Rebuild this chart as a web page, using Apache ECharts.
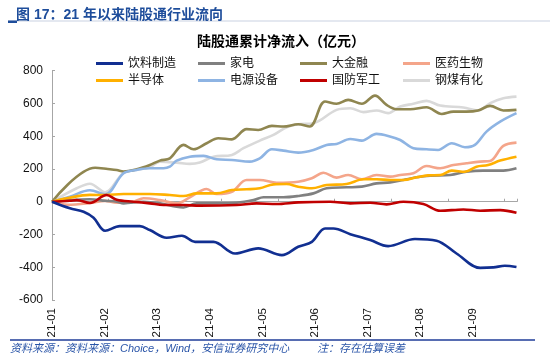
<!DOCTYPE html>
<html><head><meta charset="utf-8">
<script src="https://cdn.jsdelivr.net/npm/echarts@6/dist/echarts.min.js"></script>
<style>html,body{margin:0;padding:0;background:#fff}#c{width:550px;height:359px}</style>
</head><body><div id="c"></div>
<script>
const tickLabels = ['21-01','21-02','21-03','21-04','21-05','21-06','21-07','21-08','21-09'];
const names = ['饮料制造','家电','大金融','医药生物','半导体','电源设备','国防军工','钢煤有化'];
const colors = ['#112f91','#808080','#8f8650','#f4a58a','#ffb000','#8eb4e3','#c00000','#d9d9d9'];

// [month index since 21-01, cumulative net inflow (亿元)]
const beverage = [[0,0],[0.34,-40],[0.60,-61],[0.79,-98],[1.01,-177],[1.29,-149],[1.67,-149],[1.86,-173],[2.18,-220],[2.47,-208],[2.72,-245],[3.07,-245],[3.48,-316],[3.92,-285],[4.37,-326],[4.68,-275],[4.94,-245],[5.19,-163],[5.35,-163],[5.67,-198],[6.05,-234],[6.39,-271],[6.90,-228],[7.31,-238],[7.69,-316],[8.14,-404],[8.39,-401],[8.61,-391],[8.83,-398]];
const appliance = [[0,0],[0.34,10],[0.72,15],[1.01,6],[1.23,0],[1.36,-10],[1.74,0],[2.05,-10],[2.37,-31],[2.50,-35],[2.75,-10],[3.13,-10],[3.51,-6],[3.83,10],[4.02,27],[4.40,27],[4.68,35],[4.97,51],[5.22,82],[5.60,88],[5.89,92],[6.17,112],[6.43,118],[6.68,133],[6.93,149],[7.19,159],[7.57,163],[7.88,183],[8.20,190],[8.58,190],[8.83,204]];
const finance = [[0,0],[0.82,207],[1.06,200],[1.23,194],[1.36,185],[1.61,198],[1.86,224],[2.05,251],[2.24,265],[2.50,347],[2.69,320],[2.94,357],[3.16,388],[3.42,381],[3.70,443],[3.92,438],[4.18,463],[4.40,459],[4.68,473],[4.90,459],[5.19,612],[5.41,598],[5.63,622],[5.89,598],[6.14,648],[6.36,591],[6.55,565],[6.81,565],[7.12,577],[7.41,536],[7.63,550],[7.88,550],[8.10,557],[8.33,585],[8.58,557],[8.83,561]];
const pharma = [[0,0],[0.30,-18],[0.72,-8],[1.01,5],[1.23,-6],[1.55,0],[1.74,21],[2.05,10],[2.37,-10],[2.62,27],[2.94,78],[3.13,47],[3.42,61],[3.70,133],[3.95,133],[4.27,116],[4.68,122],[4.94,143],[5.16,177],[5.41,147],[5.63,163],[5.89,137],[6.17,163],[6.43,153],[6.62,163],[6.87,174],[7.12,218],[7.38,204],[7.63,224],[7.88,235],[8.14,245],[8.33,249],[8.58,341],[8.83,361]];
const semi = [[0,0],[0.28,21],[0.72,42],[1.01,41],[1.36,47],[1.86,47],[2.24,41],[2.50,35],[2.75,51],[3.13,51],[3.42,72],[3.70,76],[3.95,82],[4.21,106],[4.46,108],[4.68,92],[4.94,82],[5.22,102],[5.60,108],[5.92,137],[6.17,137],[6.43,133],[6.68,133],[6.93,149],[7.15,161],[7.38,163],[7.60,190],[7.85,183],[8.07,214],[8.29,224],[8.52,251],[8.83,275]];
const power = [[0,0],[0.34,31],[0.72,70],[1.01,45],[1.36,174],[1.61,194],[1.86,204],[2.12,204],[2.24,214],[2.37,251],[2.62,275],[2.88,280],[3.13,259],[3.42,255],[3.76,245],[3.95,265],[4.18,320],[4.40,312],[4.68,300],[4.97,316],[5.22,347],[5.41,353],[5.67,383],[5.89,373],[6.17,414],[6.39,402],[6.62,377],[6.87,327],[7.12,320],[7.34,316],[7.60,357],[7.85,333],[8.04,347],[8.26,428],[8.52,489],[8.83,541]];
const defense = [[0,0],[0.34,6],[0.47,10],[0.72,-8],[1.04,41],[1.23,12],[1.55,0],[1.86,-10],[2.12,-20],[2.50,-20],[2.81,-24],[3.51,-20],[3.89,-10],[4.27,-14],[4.68,-4],[5.29,0],[5.67,-10],[6.05,-6],[6.36,-16],[6.68,0],[7.06,-14],[7.38,-55],[7.82,-47],[8.14,-55],[8.52,-51],[8.83,-67]];
const steel = [[0,0],[0.47,82],[0.72,110],[1.01,58],[1.36,177],[1.61,195],[1.86,210],[2.05,245],[2.37,239],[2.62,231],[2.81,239],[3.07,275],[3.42,286],[3.64,327],[3.95,373],[4.21,408],[4.46,455],[4.68,473],[4.97,479],[5.41,561],[5.67,571],[5.92,547],[6.17,557],[6.39,541],[6.62,581],[6.87,598],[7.12,616],[7.38,587],[7.82,575],[8.10,557],[8.33,602],[8.58,632],[8.83,642]];

const seriesData = [beverage, appliance, finance, pharma, semi, power, defense, steel];
const drawOrder = [7, 2, 5, 3, 1, 4, 6, 0];

const FONT = '"Liberation Sans", "Noto Sans CJK SC", sans-serif';
const chart = echarts.init(document.getElementById('c'), null, {renderer: 'canvas'});

const legendCols = [[0,4],[1,5],[2,6],[3,7]];
const legendLefts = [91, 193, 295, 398];

const option = {
  animation: false,
  textStyle: {fontFamily: FONT},
  title: [
    {text: '图 17：21 年以来陆股通行业流向', left: 11, top: 3,
     textStyle: {fontSize: 14, fontWeight: 'bold', color: '#1e4d9b', fontFamily: FONT}},
    {text: '陆股通累计净流入（亿元）', left: 192, top: 30,
     textStyle: {fontSize: 14, fontWeight: 'bold', color: '#000', fontFamily: FONT}}
  ],
  legend: legendCols.map((col, k) => ({
    orient: 'vertical', left: legendLefts[k], top: 52,
    itemWidth: 27, itemHeight: 3, itemGap: 4, icon: 'rect',
    textStyle: {fontSize: 12, lineHeight: 13, color: '#111', fontFamily: FONT},
    data: col.map(i => names[i]),
    selectedMode: false
  })),
  grid: {left: 52, right: 33, top: 70.7, bottom: 59},
  xAxis: [
    {type: 'value', min: 0, max: 8.84, interval: 1, position: 'bottom',
     axisLine: {show: false, onZero: false}, axisTick: {show: false}, splitLine: {show: false},
     axisLabel: {rotate: 90, margin: 8, fontSize: 11.5, color: '#111', fontFamily: FONT,
       formatter: v => (Number.isInteger(v) && tickLabels[v]) ? tickLabels[v] : ''}},
    {type: 'value', min: 0, max: 8.84, interval: 1.075, position: 'bottom',
     axisLine: {show: true, onZero: true, lineStyle: {color: '#a6a6a6', width: 1}},
     axisTick: {show: true, inside: true, length: 3, lineStyle: {color: '#a6a6a6'}},
     axisLabel: {show: false}, splitLine: {show: false}}
  ],
  yAxis: {type: 'value', min: -600, max: 800, interval: 200,
    axisLine: {show: true, onZero: false, lineStyle: {color: '#a6a6a6', width: 1}},
    axisTick: {show: true, inside: true, length: 3, lineStyle: {color: '#a6a6a6'}},
    axisLabel: {fontSize: 12, color: '#111', margin: 9, fontFamily: FONT},
    splitLine: {show: false}},
  series: drawOrder.map(i => ({
    name: names[i], type: 'line', xAxisIndex: 0, data: seriesData[i],
    smooth: 0.35, showSymbol: false, symbol: 'none',
    lineStyle: {color: colors[i], width: 2.6},
    itemStyle: {color: colors[i]}
  })),
  graphic: [
    {type: 'line', shape: {x1: 8, y1: 21, x2: 550, y2: 21}, style: {stroke: '#c9d1e1', lineWidth: 1}},
    {type: 'rect', shape: {x: 8, y: 20.5, width: 9, height: 2.5}, style: {fill: '#1e4d9b'}},
    {type: 'line', shape: {x1: 10, y1: 340, x2: 535, y2: 340}, style: {stroke: '#1f3d99', lineWidth: 1.5}},
    {type: 'text', left: 10, top: 343, style: {text: '资料来源：资料来源：Choice，Wind，安信证券研究中心',
      fill: '#2a55a8', font: 'italic 11px ' + FONT}},
    {type: 'text', left: 317, top: 343, style: {text: '注：存在估算误差',
      fill: '#2a55a8', font: 'italic 11px ' + FONT}}
  ]
};
chart.setOption(option);
</script></body></html>
